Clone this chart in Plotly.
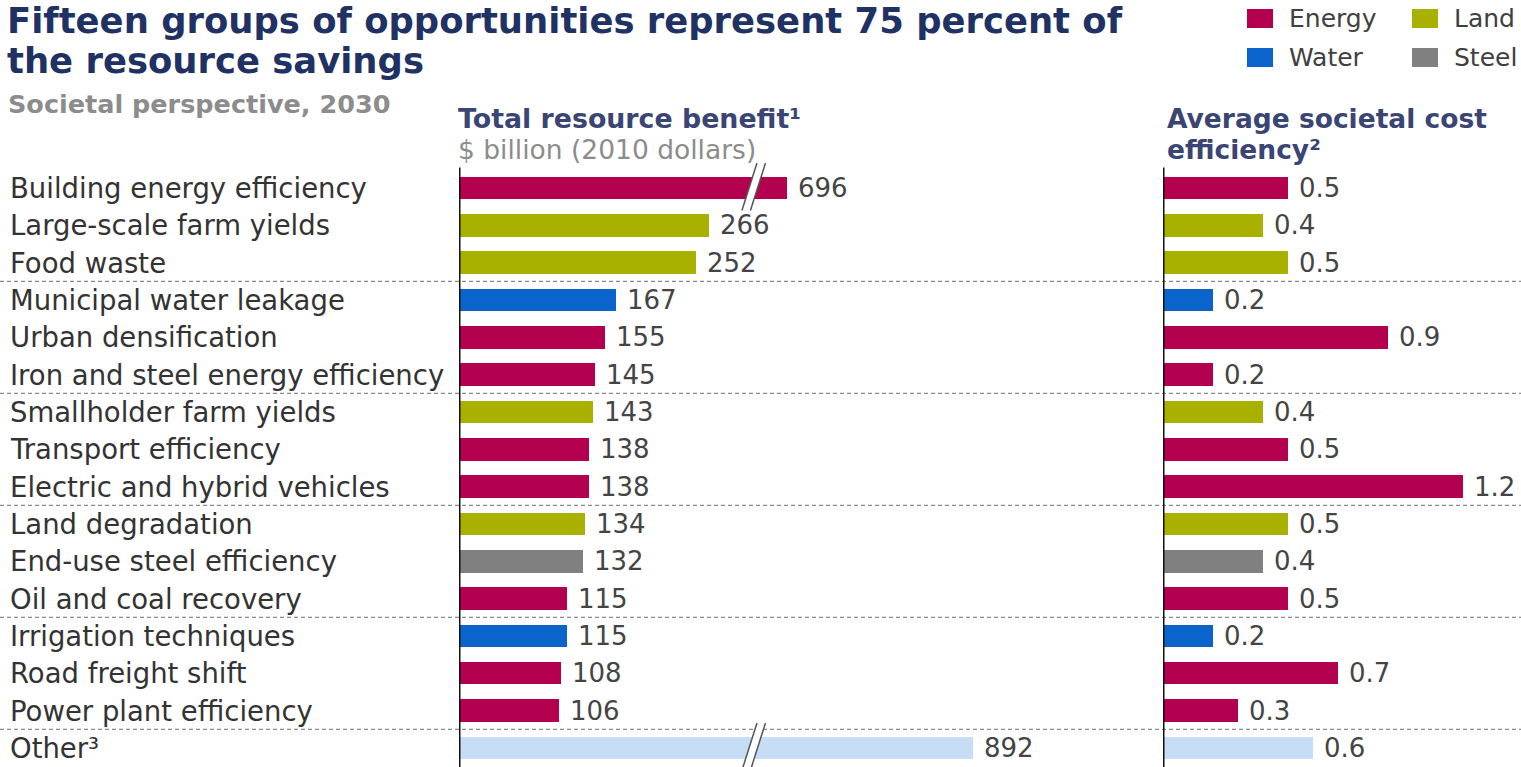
import plotly.graph_objects as go

# ---- data -------------------------------------------------------------
categories = [
    "Building energy efficiency", "Large-scale farm yields", "Food waste",
    "Municipal water leakage", "Urban densification", "Iron and steel energy efficiency",
    "Smallholder farm yields", "Transport efficiency", "Electric and hybrid vehicles",
    "Land degradation", "End-use steel efficiency", "Oil and coal recovery",
    "Irrigation techniques", "Road freight shift", "Power plant efficiency", "Other³",
]
resource_type = [
    "Energy", "Land", "Land", "Water", "Energy", "Energy", "Land", "Energy",
    "Energy", "Land", "Steel", "Energy", "Water", "Energy", "Energy", "Other",
]
benefit_bn = [696, 266, 252, 167, 155, 145, 143, 138, 138, 134, 132, 115, 115, 108, 106, 892]
cost_efficiency = [0.5, 0.4, 0.5, 0.2, 0.9, 0.2, 0.4, 0.5, 1.2, 0.5, 0.4, 0.5, 0.2, 0.7, 0.3, 0.6]
group_last_rows = [2, 5, 8, 11, 14]
legend_types = ["Energy", "Land", "Water", "Steel"]

# ---- styling ----------------------------------------------------------
COLORS = {
    "Energy": "#b3004f",
    "Land": "#a8b000",
    "Water": "#0b64cc",
    "Steel": "#808080",
    "Other": "#c6ddf6",
}
FONT = "DejaVu Sans, Verdana, sans-serif"
NAVY = "#1f3263"
HEAD = "#3b4574"
GREY_TXT = "#8c8c8c"
LABEL_TXT = "#333333"
VALUE_TXT = "#444444"

W, H = 1521, 767

# Broken-axis handling for the two very long bars on the benefit panel
AXIS_BREAK = 310                     # where the "//" mark sits (in $ billion units)
BROKEN_SHOWN = {0: 349, 15: 547}     # drawn length of bars that pass the break

# panel geometry (pixels)
LEFT_ZERO, LEFT_END, PX_PER_BN = 459, 1150, 0.94
RIGHT_ZERO, PX_PER_UNIT = 1163, 250
ROW0, ROW_H = 188, 37.33

rows = list(range(len(categories)))
bar_colors = [COLORS[t] for t in resource_type]
benefit_drawn = [BROKEN_SHOWN.get(i, v) for i, v in zip(rows, benefit_bn)]

fig = go.Figure()
fig.add_trace(go.Bar(
    x=benefit_drawn, y=rows, orientation="h", width=0.6,
    marker=dict(color=bar_colors, line=dict(width=0)),
    xaxis="x", yaxis="y", hoverinfo="skip", showlegend=False,
))
fig.add_trace(go.Bar(
    x=cost_efficiency, y=rows, orientation="h", width=0.6,
    marker=dict(color=bar_colors, line=dict(width=0)),
    xaxis="x2", yaxis="y", hoverinfo="skip", showlegend=False,
))

annotations = []
shapes = []

# row labels
for i, name in zip(rows, categories):
    annotations.append(dict(
        text=name, x=8 / W, xref="paper", y=i, yref="y",
        xanchor="left", yanchor="middle", showarrow=False,
        font=dict(family=FONT, size=27.5, color=LABEL_TXT),
    ))

# value labels
for i, shown, v in zip(rows, benefit_drawn, benefit_bn):
    annotations.append(dict(
        text=f"{v}", x=shown, xref="x", y=i, yref="y",
        xanchor="left", yanchor="middle", xshift=9, showarrow=False,
        font=dict(family=FONT, size=26, color=VALUE_TXT),
    ))
for i, v in zip(rows, cost_efficiency):
    annotations.append(dict(
        text=f"{v:.1f}", x=v, xref="x2", y=i, yref="y",
        xanchor="left", yanchor="middle", xshift=9, showarrow=False,
        font=dict(family=FONT, size=26, color=VALUE_TXT),
    ))

# group separators (dashed, full width)
for r in group_last_rows:
    shapes.append(dict(
        type="line", xref="paper", yref="y", x0=0, x1=1, y0=r + 0.5, y1=r + 0.5,
        line=dict(color="#6e6e6e", width=1, dash="4px,3px"), layer="above",
    ))

# vertical zero lines of both panels
for ax in ("x", "x2"):
    shapes.append(dict(
        type="line", xref=ax, yref="y", x0=0, x1=0, y0=-0.55, y1=15.6,
        line=dict(color="#111111", width=3), layer="above",
    ))

# axis-break marks on the long bars
for r in BROKEN_SHOWN:
    dx = 8.5 / PX_PER_BN
    xb0, xt0 = AXIS_BREAK - 9, AXIS_BREAK + 7
    yb, yt = r + 0.6, r - 0.67
    shapes.append(dict(
        type="path", xref="x", yref="y",
        path=f"M{xb0},{yb} L{xt0},{yt} L{xt0 + dx},{yt} L{xb0 + dx},{yb} Z",
        fillcolor="white", line=dict(width=0), layer="above",
    ))
    for off in (0, dx):
        shapes.append(dict(
            type="line", xref="x", yref="y",
            x0=xb0 + off, y0=yb, x1=xt0 + off, y1=yt,
            line=dict(color="#555555", width=1.5), layer="above",
        ))

# legend
legend_pos = {"Energy": (1247, 18), "Land": (1412, 18), "Water": (1247, 57), "Steel": (1412, 57)}
for t in legend_types:
    px, py = legend_pos[t]
    shapes.append(dict(
        type="rect", xref="paper", yref="paper",
        x0=px / W, x1=(px + 26) / W, y0=1 - (py + 10) / H, y1=1 - (py - 9) / H,
        fillcolor=COLORS[t], line=dict(width=0),
    ))
    annotations.append(dict(
        text=t, x=(px + 40) / W, xref="paper", y=1 - py / H, yref="paper",
        xanchor="left", yanchor="middle", showarrow=False,
        font=dict(family=FONT, size=25, color="#404040"),
    ))

# titles and headers
def paper_text(text, px, py, size, color, bold=False):
    annotations.append(dict(
        text=f"<b>{text}</b>" if bold else text,
        x=px / W, xref="paper", y=1 - py / H, yref="paper",
        xanchor="left", yanchor="middle", showarrow=False,
        font=dict(family=FONT, size=size, color=color),
    ))

paper_text("Fifteen groups of opportunities represent 75 percent of", 5, 21, 35.4, NAVY, True)
paper_text("the resource savings", 5, 60, 35.4, NAVY, True)
paper_text("Societal perspective, 2030", 6, 104, 25.5, GREY_TXT, True)
paper_text("Total resource benefit¹", 456, 118, 26.8, HEAD, True)
paper_text("$ billion (2010 dollars)", 456, 149, 26.5, GREY_TXT)
paper_text("Average societal cost", 1165, 118, 26.5, HEAD, True)
paper_text("efficiency²", 1165, 149, 26.5, HEAD, True)

fig.update_layout(
    width=W, height=H,
    margin=dict(l=0, r=0, t=0, b=0),
    paper_bgcolor="white", plot_bgcolor="white",
    bargap=0,
    xaxis=dict(domain=[LEFT_ZERO / W, LEFT_END / W],
               range=[0, (LEFT_END - LEFT_ZERO) / PX_PER_BN],
               visible=False, fixedrange=True, anchor="y"),
    xaxis2=dict(domain=[RIGHT_ZERO / W, 1.0],
                range=[0, (W - RIGHT_ZERO) / PX_PER_UNIT],
                visible=False, fixedrange=True, anchor="y"),
    yaxis=dict(domain=[0, 1],
               range=[(H - ROW0) / ROW_H, -ROW0 / ROW_H],
               visible=False, fixedrange=True),
    annotations=annotations,
    shapes=shapes,
    showlegend=False,
)

fig.write_html("out.html")
